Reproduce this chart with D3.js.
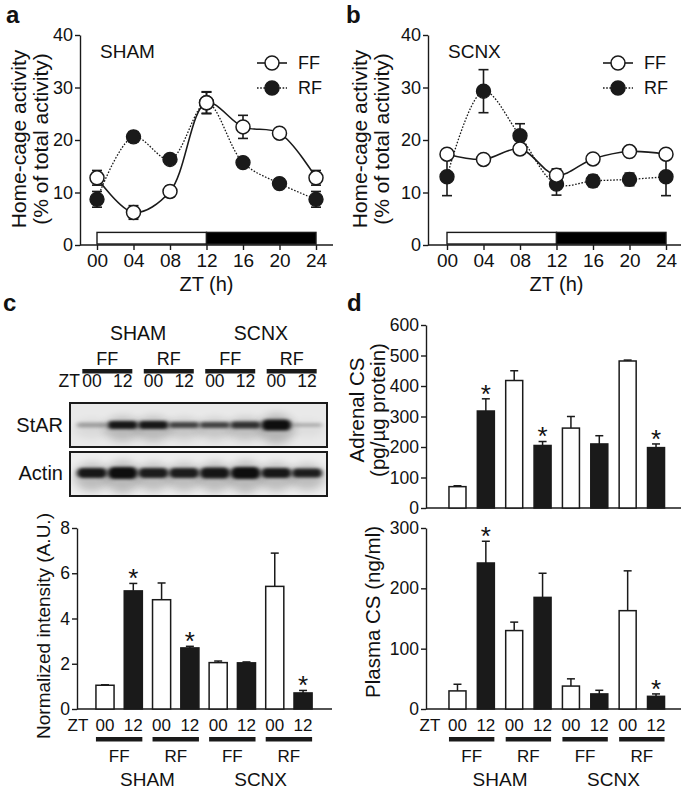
<!DOCTYPE html>
<html><head><meta charset="utf-8">
<script src="https://cdn.jsdelivr.net/npm/d3@7"></script>
<style>
body{margin:0;background:#fff}
text{font-family:"Liberation Sans",Arial,Helvetica,sans-serif;fill:#111}
</style>
</head><body>
<svg id="fig" width="685" height="791"></svg>
<script>
// ---------- DATA ----------
const ztHours = [0, 4, 8, 12, 16, 20, 24];
const ztLabels = ["00", "04", "08", "12", "16", "20", "24"];
const yTicksActivity = [0, 10, 20, 30, 40];

const shamFF = [12.8, 6.2, 10.2, 27.1, 22.5, 21.3, 12.8];
const shamFFErr = [1.4, 1.3, 1.0, 2.1, 2.2, 0.8, 1.4];
const shamRF = [8.7, 20.6, 16.3, 27.1, 15.7, 11.7, 8.7];
const shamRFErr = [1.5, 1.0, 0.7, 2.0, 0.6, 0.9, 1.5];

const scnxFF = [17.3, 16.3, 18.3, 13.3, 16.4, 17.8, 17.3];
const scnxFFErr = [0.8, 0.9, 0.5, 1.2, 0.5, 0.5, 0.8];
const scnxRF = [13.0, 29.3, 20.8, 11.6, 12.2, 12.5, 13.0];
const scnxRFErr = [3.6, 4.1, 2.3, 2.1, 1.1, 1.2, 3.6];

// light/dark bar: [start, end, fill]
const lightDark = [[0, 12, "#fff"], [12, 24, "#000"]];
const lightDarkHeight = 2.4;

// bar groups (8 bars)
const barZT = ["00", "12", "00", "12", "00", "12", "00", "12"];
const barFill = ["white", "black", "white", "black", "white", "black", "white", "black"];
const feedGroups = ["FF", "RF", "FF", "RF"];
const surgGroups = ["SHAM", "SCNX"];

const starIntensity = [1.05, 5.22, 4.83, 2.70, 2.05, 2.04, 5.42, 0.71];
const starIntensityErr = [0.02, 0.33, 0.74, 0.07, 0.07, 0.04, 1.47, 0.11];
const starSig = [false, true, false, true, false, false, false, true];
const yTicksIntensity = [0, 2, 4, 6, 8];

const adrenalCS = [70, 318, 418, 205, 262, 210, 482, 198];
const adrenalCSErr = [3, 40, 32, 13, 38, 27, 3, 12];
const adrenalSig = [false, true, false, true, false, false, false, true];
const yTicksAdrenal = [0, 100, 200, 300, 400, 500, 600];

const plasmaCS = [30, 242, 130, 185, 38, 25, 163, 21];
const plasmaCSErr = [11, 36, 14, 40, 12, 6, 66, 4];
const plasmaSig = [false, true, false, false, false, false, false, true];
const yTicksPlasma = [0, 100, 200, 300];

// western blot band intensities (0..1) and band thickness
const blotStAR = [0.30, 0.95, 0.95, 0.72, 0.72, 0.82, 1.0, 0.22];
const blotStARH = [5, 8, 8, 6, 6, 7, 11, 4];
const blotActin = [0.95, 1.0, 0.92, 0.92, 0.96, 1.0, 0.95, 0.92];
const blotActinH = [10, 12, 10, 10, 11, 12, 10, 9];

// ---------- DRAW ----------
const svg = d3.select("#fig");
const INK = "#1a1a1a";
const defs = svg.append("defs");
defs.append("filter").attr("id", "blur").attr("x", "-20%").attr("y", "-80%").attr("width", "140%").attr("height", "260%")
  .append("feGaussianBlur").attr("stdDeviation", "2.2 1.6");
defs.append("filter").attr("id", "blurBig").attr("x", "-30%").attr("y", "-100%").attr("width", "160%").attr("height", "300%")
  .append("feGaussianBlur").attr("stdDeviation", "5 4");

function panelLabel(t, x, y) {
  svg.append("text").attr("x", x).attr("y", y).attr("font-size", 24).attr("font-weight", "bold").text(t);
}

function yAxis(g, scale, ticks, x, fs) {
  const ax = g.append("g").attr("transform", `translate(${x},0)`)
    .call(d3.axisLeft(scale).tickValues(ticks).tickSize(5).tickSizeOuter(0).tickPadding(2));
  ax.select(".domain").attr("stroke", INK).attr("stroke-width", 1.4);
  ax.selectAll(".tick line").attr("stroke", INK).attr("stroke-width", 1.4);
  ax.selectAll(".tick text").attr("font-size", fs).attr("fill", INK)
    .style("font-family", '"Liberation Sans",Arial,sans-serif');
  return ax;
}

function hLine(g, x1, x2, y, w) {
  g.append("line").attr("x1", x1).attr("x2", x2).attr("y1", y).attr("y2", y)
    .attr("stroke", INK).attr("stroke-width", w || 1.4);
}

function rotLabel(g, lines, x0, cy, fs, gap) {
  lines.forEach((t, i) => {
    g.append("text").attr("transform", `translate(${x0 + i * gap},${cy}) rotate(-90)`)
      .attr("text-anchor", "middle").attr("font-size", fs).text(t);
  });
}

// ---------- panels a & b ----------
function activityPanel(o) {
  const g = svg.append("g");
  const y = d3.scaleLinear().domain([0, 40]).range([245, 35]);
  const x = d3.scaleLinear().domain([0, 24]).range(o.xr);
  yAxis(g, y, yTicksActivity, o.ax, 18);
  hLine(g, o.ax, o.axEnd, y(0));
  const xa = g.append("g").attr("transform", `translate(0,${y(0)})`)
    .call(d3.axisBottom(x).tickValues(ztHours).tickFormat((d, i) => ztLabels[i]).tickSize(5).tickPadding(4));
  xa.select(".domain").remove();
  xa.selectAll(".tick line").attr("stroke", INK).attr("stroke-width", 1.4);
  xa.selectAll(".tick text").attr("font-size", 19).attr("fill", INK)
    .style("font-family", '"Liberation Sans",Arial,sans-serif');
  g.append("text").attr("x", (o.xr[0] + o.xr[1]) / 2).attr("y", 291).attr("text-anchor", "middle")
    .attr("font-size", 20).text("ZT (h)");
  rotLabel(g, ["Home-cage activity", "(% of total activity)"], o.lx, 139, 21, 22);

  // light-dark bar
  g.selectAll("rect.ld").data(lightDark).join("rect")
    .attr("x", d => x(d[0])).attr("width", d => x(d[1]) - x(d[0]))
    .attr("y", y(lightDarkHeight)).attr("height", y(0) - y(lightDarkHeight) - 1)
    .attr("fill", d => d[2]).attr("stroke", INK).attr("stroke-width", 1.4);

  g.append("text").attr("x", o.tx).attr("y", 58).attr("font-size", 19).text(o.title);

  const line = d3.line().x((d, i) => x(ztHours[i])).y(d => y(d)).curve(d3.curveCatmullRom.alpha(0.5));
  g.append("path").attr("d", line(o.rf)).attr("fill", "none").attr("stroke", INK)
    .attr("stroke-width", 1.3).attr("stroke-dasharray", "1.6,1.6");
  g.append("path").attr("d", line(o.ff)).attr("fill", "none").attr("stroke", INK).attr("stroke-width", 1.6);

  function errs(vals, errv) {
    vals.forEach((v, i) => {
      const cx = x(ztHours[i]);
      g.append("line").attr("x1", cx).attr("x2", cx).attr("y1", y(v - errv[i])).attr("y2", y(v + errv[i]))
        .attr("stroke", INK).attr("stroke-width", 1.6);
      [v - errv[i], v + errv[i]].forEach(e => {
        g.append("line").attr("x1", cx - 5).attr("x2", cx + 5).attr("y1", y(e)).attr("y2", y(e))
          .attr("stroke", INK).attr("stroke-width", 1.6);
      });
    });
  }
  errs(o.rf, o.rfErr);
  errs(o.ff, o.ffErr);
  g.selectAll("circle.rf").data(o.rf).join("circle").attr("cx", (d, i) => x(ztHours[i])).attr("cy", d => y(d))
    .attr("r", 7).attr("fill", INK).attr("stroke", INK).attr("stroke-width", 1.4);
  g.selectAll("circle.ff").data(o.ff).join("circle").attr("cx", (d, i) => x(ztHours[i])).attr("cy", d => y(d))
    .attr("r", 7).attr("fill", "#fff").attr("stroke", INK).attr("stroke-width", 1.5);

  // legend
  const L = [["FF", "#fff", null, 63], ["RF", INK, "1.6,1.6", 88]];
  L.forEach(l => {
    g.append("line").attr("x1", o.lgx - 15).attr("x2", o.lgx + 15).attr("y1", l[3]).attr("y2", l[3])
      .attr("stroke", INK).attr("stroke-width", l[2] ? 1.3 : 1.6).attr("stroke-dasharray", l[2]);
    g.append("circle").attr("cx", o.lgx).attr("cy", l[3]).attr("r", 7).attr("fill", l[1])
      .attr("stroke", INK).attr("stroke-width", 1.5);
    g.append("text").attr("x", o.lgx + 26).attr("y", l[3] + 6).attr("font-size", 18).text(l[0]);
  });
}

panelLabel("a", 6, 23);
activityPanel({ax: 80, axEnd: 333, xr: [97, 316], lx: 26, tx: 100, lgx: 272, title: "SHAM",
  ff: shamFF, ffErr: shamFFErr, rf: shamRF, rfErr: shamRFErr});
panelLabel("b", 346, 23);
activityPanel({ax: 428, axEnd: 681, xr: [447, 666], lx: 367, tx: 448, lgx: 618, title: "SCNX",
  ff: scnxFF, ffErr: scnxFFErr, rf: scnxRF, rfErr: scnxRFErr});

// ---------- bar chart helper ----------
function barChart(g, o) {
  const y = d3.scaleLinear().domain(o.dom).range(o.yr);
  yAxis(g, y, o.ticks, o.ax, 17.5);
  hLine(g, o.ax, o.axEnd, y(0));
  const x = o.x;
  const bw = x.bandwidth();
  o.vals.forEach((v, i) => {
    const top = y(v + o.err[i]);
    g.append("line").attr("x1", x(i) + bw / 2).attr("x2", x(i) + bw / 2).attr("y1", y(v)).attr("y2", top)
      .attr("stroke", INK).attr("stroke-width", 1.5);
    g.append("line").attr("x1", x(i) + bw / 2 - 4).attr("x2", x(i) + bw / 2 + 4).attr("y1", top).attr("y2", top)
      .attr("stroke", INK).attr("stroke-width", 1.5);
  });
  g.selectAll(null).data(o.vals).join("rect")
    .attr("x", (d, i) => x(i)).attr("width", bw).attr("y", d => y(d)).attr("height", d => y(0) - y(d))
    .attr("fill", (d, i) => barFill[i] === "black" ? INK : "#fff").attr("stroke", INK).attr("stroke-width", 1.5);
  o.vals.forEach((v, i) => {
    if (o.sig[i]) g.append("text").attr("x", x(i) + bw / 2).attr("y", y(v + o.err[i]))
      .attr("dy", "0.15em").attr("text-anchor", "middle").attr("font-size", 26).text("*");
  });
  return y;
}

function groupAxisLabels(g, x, o) {
  const bw = x.bandwidth();
  g.append("text").attr("x", o.ztx).attr("y", 731).attr("text-anchor", "middle").attr("font-size", 17).text("ZT");
  barZT.forEach((t, i) => {
    g.append("text").attr("x", x(i) + bw / 2).attr("y", 731).attr("text-anchor", "middle").attr("font-size", 17).text(t);
  });
  feedGroups.forEach((t, k) => {
    const a = x(2 * k), b = x(2 * k + 1) + bw;
    g.append("rect").attr("x", a).attr("width", b - a).attr("y", 737).attr("height", 4.5).attr("fill", INK);
    g.append("text").attr("x", (a + b) / 2).attr("y", 762).attr("text-anchor", "middle").attr("font-size", 17).text(t);
  });
  surgGroups.forEach((t, k) => {
    const a = x(4 * k), b = x(4 * k + 3) + bw;
    g.append("text").attr("x", (a + b) / 2).attr("y", 786).attr("text-anchor", "middle").attr("font-size", 19).text(t);
  });
}

// ---------- panel c ----------
panelLabel("c", 3, 311);
const gc = svg.append("g");
// blot header
const lane = d3.scalePoint().domain(d3.range(8)).range([76.6, 322.4]).padding(0.5);
surgGroups.forEach((t, k) => {
  gc.append("text").attr("x", (lane(4 * k) + lane(4 * k + 3)) / 2).attr("y", 340).attr("text-anchor", "middle")
    .attr("font-size", 19.5).text(t);
});
feedGroups.forEach((t, k) => {
  const c = (lane(2 * k) + lane(2 * k + 1)) / 2;
  gc.append("text").attr("x", c).attr("y", 365).attr("text-anchor", "middle").attr("font-size", 18).text(t);
  gc.append("rect").attr("x", c - 25).attr("width", 50).attr("y", 369).attr("height", 4.5).attr("fill", INK);
});
gc.append("text").attr("x", 80).attr("y", 387).attr("text-anchor", "end").attr("font-size", 17.5).text("ZT");
barZT.forEach((t, i) => {
  gc.append("text").attr("x", lane(i)).attr("y", 387).attr("text-anchor", "middle").attr("font-size", 17.5).text(t);
});
function blot(yTop, yBot, cy, vals, hs, label, bg) {
  const clipId = "clip" + label;
  defs.append("clipPath").attr("id", clipId).append("rect")
    .attr("x", 70).attr("y", yTop).attr("width", 257).attr("height", yBot - yTop);
  gc.append("rect").attr("x", 70).attr("y", yTop).attr("width", 257).attr("height", yBot - yTop).attr("fill", bg);
  const gg = gc.append("g").attr("clip-path", `url(#${clipId})`);
  vals.forEach((v, i) => {
    gg.append("ellipse").attr("cx", lane(i)).attr("cy", cy + 4).attr("rx", 18).attr("ry", hs[i] + 4)
      .attr("fill", "#000").attr("opacity", v * 0.22).attr("filter", "url(#blurBig)");
  });
  vals.forEach((v, i) => {
    gg.append("rect").attr("x", lane(i) - 15).attr("y", cy - hs[i] / 2).attr("width", 30).attr("height", hs[i])
      .attr("rx", hs[i] / 2).attr("fill", "#000").attr("opacity", v * 0.92).attr("filter", "url(#blur)");
  });
  gc.append("rect").attr("x", 70).attr("y", yTop).attr("width", 257).attr("height", yBot - yTop)
    .attr("fill", "none").attr("stroke", INK).attr("stroke-width", 2);
  gc.append("text").attr("x", 63).attr("y", cy + 7).attr("text-anchor", "end").attr("font-size", 20).text(label);
}
blot(403, 447, 425, blotStAR, blotStARH, "StAR", "#e9e9e9");
blot(452, 496, 473, blotActin, blotActinH, "Actin", "#eeeeee");

// bar chart c
const xc = d3.scaleBand().domain(d3.range(8)).range([90.85, 317.2]).paddingInner(0.36).paddingOuter(0.18);
barChart(gc, {dom: [0, 8], yr: [709, 528], ticks: yTicksIntensity, ax: 77, axEnd: 332, x: xc,
  vals: starIntensity, err: starIntensityErr, sig: starSig});
rotLabel(gc, ["Normalized intensity (A.U.)"], 50, 626, 19, 0);
groupAxisLabels(gc, xc, {ztx: 78});

// ---------- panel d ----------
panelLabel("d", 347, 311);
const gd = svg.append("g");
const xd = d3.scaleBand().domain(d3.range(8)).range([443.3, 670.2]).paddingInner(0.4).paddingOuter(0.2);
barChart(gd, {dom: [0, 600], yr: [508, 325], ticks: yTicksAdrenal, ax: 426, axEnd: 681, x: xd,
  vals: adrenalCS, err: adrenalCSErr, sig: adrenalSig});
rotLabel(gd, ["Adrenal CS", "(pg/\u00b5g protein)"], 364, 410, 20.5, 21);
barChart(gd, {dom: [0, 300], yr: [709, 528], ticks: yTicksPlasma, ax: 426, axEnd: 681, x: xd,
  vals: plasmaCS, err: plasmaCSErr, sig: plasmaSig});
rotLabel(gd, ["Plasma CS (ng/ml)"], 380, 612, 20.5, 0);
groupAxisLabels(gd, xd, {ztx: 430});
</script>
</body></html>
